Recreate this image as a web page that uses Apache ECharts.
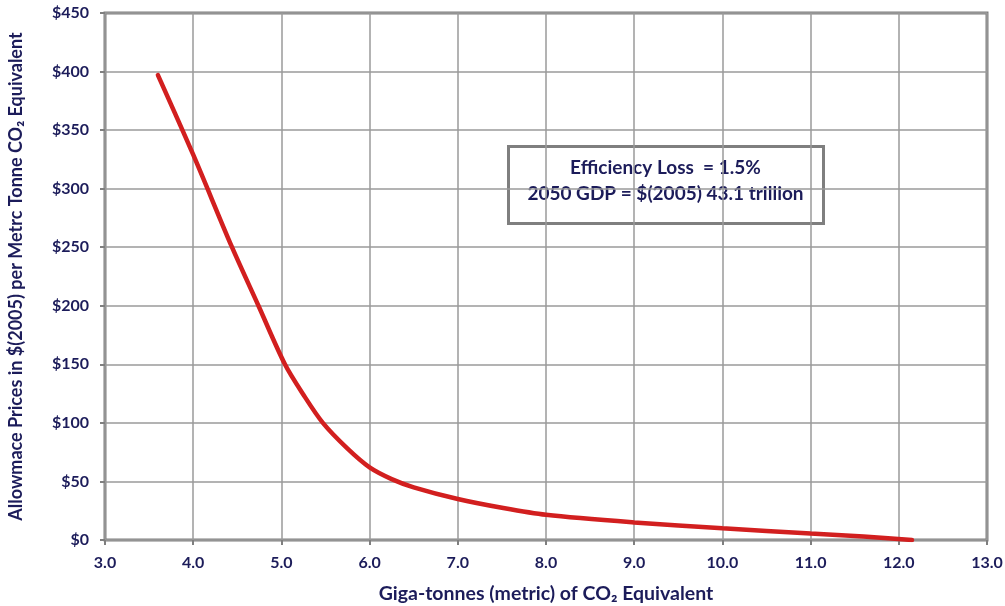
<!DOCTYPE html>
<html>
<head>
<meta charset="utf-8">
<script src="https://cdn.jsdelivr.net/npm/echarts@6/dist/echarts.min.js"></script>
<style>html,body{margin:0;padding:0;background:#fff}#c{width:1005px;height:606px}</style>
</head>
<body>
<div id="c"></div>
<script>
const gigaTonnes = [3.6, 4.0, 4.44, 4.74, 5.04, 5.25, 5.47, 5.75, 6.0, 6.25, 6.5, 7.0, 7.5, 8.0, 9.0, 10.0, 11.0, 11.6, 12.15];
const prices     = [397, 329, 250, 200, 150, 124, 100, 78, 62, 52, 45, 35, 27.5, 21.5, 15, 10, 5.5, 3, 0];
const xTicks = [3, 13, 1];
const yTicks = [0, 450, 50];
const annotationLines = ['Efficiency Loss  = 1.5%', '2050 GDP = $(2005) 43.1 trillion'];

const FONT = 'Lato, "Open Sans", sans-serif';
const NAVY = '#1c1c5a';
const chart = echarts.init(document.getElementById('c'), null, {renderer: 'canvas'});
chart.setOption({
  animation: false,
  backgroundColor: '#fff',
  grid: {left: 105, right: 18, top: 13, bottom: 66, show: true, borderColor: '#7f7f7f', borderWidth: 3, containLabel: false, outerBoundsMode: 'none'},
  xAxis: {
    type: 'value', min: xTicks[0], max: xTicks[1], interval: xTicks[2],
    name: 'Giga-tonnes (metric) of CO\u2082 Equivalent', nameLocation: 'middle', nameGap: 44,
    nameTextStyle: {fontFamily: FONT, fontWeight: 'bold', fontSize: 19.5, color: NAVY},
    axisLine: {show: false},
    axisTick: {show: true, length: 5, lineStyle: {color: '#7f7f7f', width: 2}},
    axisLabel: {formatter: v => v.toFixed(1), fontFamily: FONT, fontWeight: 'bold', fontSize: 16, color: NAVY, margin: 15},
    splitLine: {show: true, lineStyle: {color: '#9a9a9a', width: 1.5}}
  },
  yAxis: {
    type: 'value', min: yTicks[0], max: yTicks[1], interval: yTicks[2],
    name: 'Allowmace Prices in $(2005) per Metrc Tonne CO\u2082 Equivalent', nameLocation: 'middle', nameGap: 80,
    nameTextStyle: {fontFamily: FONT, fontWeight: 'bold', fontSize: 18, color: NAVY},
    axisLine: {show: false},
    axisTick: {show: true, length: 5, lineStyle: {color: '#7f7f7f', width: 2}},
    axisLabel: {formatter: v => '$' + v, fontFamily: FONT, fontWeight: 'bold', fontSize: 16, color: NAVY, margin: 16},
    splitLine: {show: true, lineStyle: {color: '#9a9a9a', width: 1.5}}
  },
  series: [{
    type: 'line', data: gigaTonnes.map((x, i) => [x, prices[i]]),
    smooth: 0.3, showSymbol: false, symbol: 'none',
    lineStyle: {color: '#d21f1f', width: 4.5, cap: 'round'}
  }],
  graphic: [{
    type: 'group', left: 507, top: 145,
    children: [
      {type: 'rect', shape: {x: 0, y: 0, width: 315, height: 77}, style: {fill: '#fff', stroke: '#7f7f7f', lineWidth: 3}},
      {type: 'text', style: {x: 157, y: 21, text: annotationLines[0], align: 'center', verticalAlign: 'middle', font: 'bold 19px ' + FONT, fill: NAVY}},
      {type: 'text', style: {x: 157, y: 47, text: annotationLines[1], align: 'center', verticalAlign: 'middle', font: 'bold 19px ' + FONT, fill: NAVY}}
    ]
  }]
});
</script>
</body>
</html>
